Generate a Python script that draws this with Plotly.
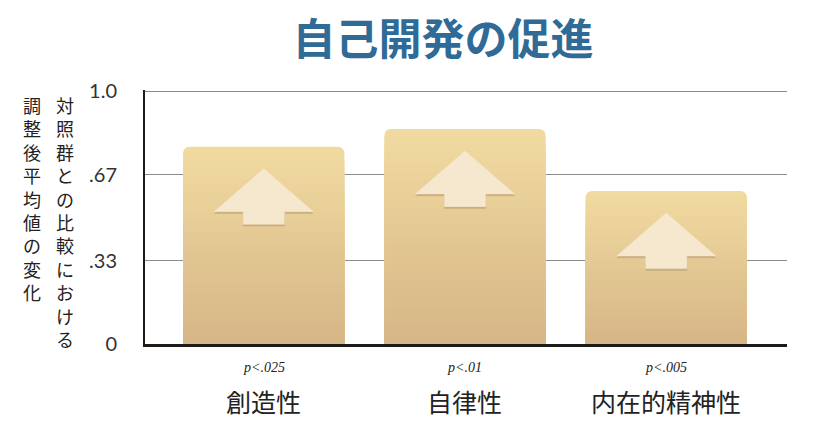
import plotly.graph_objects as go

# chart data
categories = ["創造性", "自律性", "内在的精神性"]
p_labels = ["p<.025", "p<.01", "p<.005"]
values = [0.78, 0.85, 0.605]
ytick_vals = [0, 0.33, 0.67, 1.0]
ytick_text = ["0", ".33", ".67", "1.0"]
title_text = "自己開発の促進"
ytitle_right = "対照群との比較における"
ytitle_left = "調整後平均値の変化"

#---------------------------------------------------------------------------------------------------------
# styling

top_rgb = (241, 218, 160)
bottom_rgb = (214, 182, 135)
arrow_fill = "#f5e8cf"
arrow_shadow = "#c9ac7e"
cjk = "Noto Sans CJK JP"
n_steps = 30

x_pos = list(range(len(categories)))

fig = go.Figure()

# bars drawn as stacked overlay layers to fake a vertical gradient
for k in range(n_steps):
    t = k / (n_steps - 1)
    r = round(top_rgb[0] + (bottom_rgb[0] - top_rgb[0]) * t)
    g = round(top_rgb[1] + (bottom_rgb[1] - top_rgb[1]) * t)
    b = round(top_rgb[2] + (bottom_rgb[2] - top_rgb[2]) * t)
    frac = 1 - k / n_steps
    fig.add_trace(go.Bar(
        x=x_pos,
        y=[v * frac for v in values],
        marker=dict(color="rgb(%d,%d,%d)" % (r, g, b), line=dict(width=0),
                    cornerradius=6 if k == 0 else 0),
        width=0.8,
        hoverinfo="skip",
        showlegend=False,
    ))

# arrows inside each bar, placed relative to bar top
tip_gap = 0.087
head_h = 0.17
total_h = 0.22
head_w = 0.246
stem_w = 0.102

for shift, color in [(0.007, arrow_shadow), (0.0, arrow_fill)]:
    for xc, v in zip(x_pos, values):
        tip = v - tip_gap - shift
        base = tip - head_h
        bottom = tip - total_h
        xs = [xc, xc + head_w, xc + stem_w, xc + stem_w, xc - stem_w, xc - stem_w, xc - head_w, xc]
        ys = [tip, base, base, bottom, bottom, base, base, tip]
        fig.add_trace(go.Scatter(
            x=xs, y=ys, mode="lines", fill="toself",
            fillcolor=color, line=dict(color=color, width=0.5),
            hoverinfo="skip", showlegend=False,
        ))

annotations = []
for xc, cat, p in zip(x_pos, categories, p_labels):
    annotations.append(dict(
        x=xc, y=-0.094, xref="x", yref="paper", text="<i>" + p.replace("<", "&lt;") + "</i>",
        showarrow=False, font=dict(family="Liberation Serif", size=14, color="#222"),
        xanchor="center", yanchor="middle"))
    annotations.append(dict(
        x=xc, y=-0.224, xref="x", yref="paper", text=cat,
        showarrow=False, font=dict(family=cjk, size=25, color="#222"),
        xanchor="center", yanchor="middle"))

# vertical japanese axis title, two columns
annotations.append(dict(
    x=-0.125, y=1.0, xref="paper", yref="paper", text="<br>".join(ytitle_right),
    showarrow=False, font=dict(family=cjk, size=18, color="#222"),
    xanchor="center", yanchor="top"))
annotations.append(dict(
    x=-0.176, y=1.0, xref="paper", yref="paper", text="<br>".join(ytitle_left),
    showarrow=False, font=dict(family=cjk, size=18, color="#222"),
    xanchor="center", yanchor="top"))

fig.update_layout(
    width=827, height=431,
    margin=dict(l=145, r=40, t=90, b=87),
    paper_bgcolor="white", plot_bgcolor="white",
    barmode="overlay", bargap=0.2,
    title=dict(text=title_text, x=443 / 827, xanchor="center", y=1 - 40 / 431, yanchor="middle",
               font=dict(family=cjk, size=43, color="#2f6b96", weight="bold")),
    annotations=annotations,
)

fig.update_xaxes(range=[-0.59, 2.6], showticklabels=False, showgrid=False, zeroline=False,
                 showline=True, linecolor="#1e1a18", linewidth=3, ticks="")
fig.update_yaxes(range=[0, 1.004], tickvals=ytick_vals, ticktext=ytick_text,
                 showgrid=True, gridcolor="#8c8c8c", gridwidth=1, zeroline=False,
                 showline=True, linecolor="#1e1a18", linewidth=2, ticks="", ticklabelstandoff=22,
                 tickfont=dict(family="Lato", size=20, color="#333"))

# drop the default page margin so the figure sits at the window corner
fig.write_html("out.html", config={"displayModeBar": False},
               post_script="document.body.style.margin='0';")
